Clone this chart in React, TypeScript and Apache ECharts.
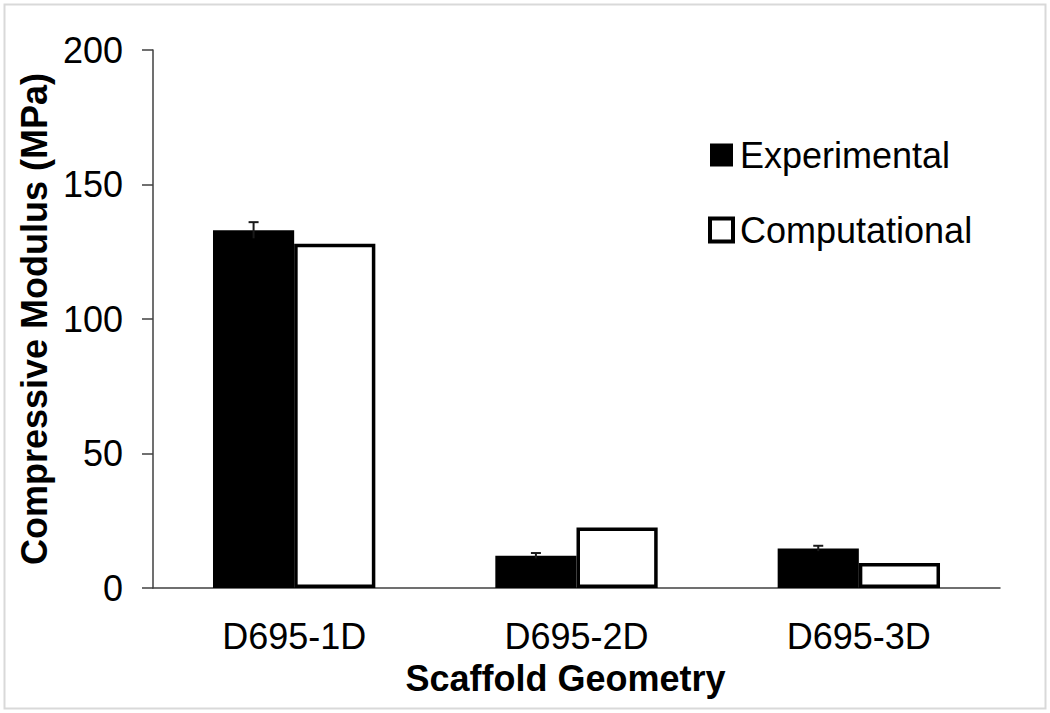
import React, { useEffect, useRef } from "react";
import * as echarts from "echarts";

const categories = ["D695-1D", "D695-2D", "D695-3D"];
const experimental = [133, 12, 14.7];
const experimentalError = [3, 1, 1];
const computational = [128, 22.5, 9.3];
const yTicks = { min: 0, max: 200, interval: 50 };

const FONT = "Liberation Sans, Arial, sans-serif";
const CAT_GAP = 0.425;

export default function App() {
  const ref = useRef<HTMLDivElement>(null);
  useEffect(() => {
    document.body.style.margin = "0";
    const chart = echarts.init(ref.current!, null, { renderer: "svg" });
    const errData = categories.map((c, i) => [i, experimental[i], experimentalError[i]]);
    chart.setOption({
      animation: false,
      backgroundColor: "#ffffff",
      textStyle: { fontFamily: FONT },
      graphic: [
        {
          type: "rect",
          shape: { x: 4.5, y: 4.5, width: 1041, height: 704 },
          style: { fill: "none", stroke: "#d9d9d9", lineWidth: 2 },
          silent: true,
        },
      ],
      grid: { left: 153, top: 50, right: 50, bottom: 125 },
      legend: {
        left: 703,
        top: 132,
        orient: "vertical",
        itemWidth: 23,
        itemHeight: 23,
        itemGap: 39,
        icon: "rect",
        data: [
          { name: "Experimental" },
          { name: "Computational", itemStyle: { borderWidth: 4, borderColor: "#000", color: "#fff" } },
        ],
        textStyle: { fontSize: 36, color: "#000", fontFamily: FONT, lineHeight: 36, padding: [0, 0, 0, 2] },
      },
      xAxis: {
        type: "category",
        data: categories,
        axisLine: { lineStyle: { color: "#404040", width: 1.5 } },
        axisTick: { show: false },
        axisLabel: { fontSize: 36, color: "#000", margin: 30, fontFamily: FONT },
        name: "Scaffold Geometry",
        nameLocation: "middle",
        nameGap: 72,
        nameTextStyle: { fontSize: 36, fontWeight: "bold", color: "#000", fontFamily: FONT, padding: [0, 22, 0, 0] },
      },
      yAxis: {
        type: "value",
        min: yTicks.min,
        max: yTicks.max,
        interval: yTicks.interval,
        splitLine: { show: false },
        axisLine: { show: true, lineStyle: { color: "#404040", width: 1.5 } },
        axisTick: { show: true, length: 11, lineStyle: { color: "#404040", width: 1.5 } },
        axisLabel: { fontSize: 36, color: "#000", margin: 30, fontFamily: FONT },
        name: "Compressive Modulus (MPa)",
        nameLocation: "middle",
        nameGap: 99,
        nameTextStyle: { fontSize: 36, fontWeight: "bold", color: "#000", fontFamily: FONT },
      },
      series: [
        {
          name: "Experimental",
          type: "bar",
          data: experimental,
          barGap: "0%",
          barCategoryGap: CAT_GAP * 100 + "%",
          itemStyle: { color: "#000000" },
          z: 2,
        },
        {
          name: "Computational",
          type: "bar",
          data: computational,
          barGap: "0%",
          barCategoryGap: CAT_GAP * 100 + "%",
          itemStyle: { color: "#ffffff", borderColor: "#000000", borderWidth: 3.5 },
          z: 2,
        },
        {
          name: "errors",
          type: "custom",
          data: errData,
          z: 5,
          renderItem: (params: any, api: any) => {
            const idx = api.value(0);
            const v = api.value(1);
            const e = api.value(2);
            const band = api.size([1, 0])[0];
            const barW = (band * (1 - CAT_GAP)) / 2;
            const top = api.coord([idx, v + e]);
            const bot = api.coord([idx, v - e]);
            const x = top[0] - barW / 2;
            const cap = 5;
            const style = { stroke: "#1a1a1a", lineWidth: 2, fill: "none" };
            return {
              type: "group",
              children: [
                { type: "line", shape: { x1: x, y1: top[1], x2: x, y2: bot[1] }, style },
                { type: "line", shape: { x1: x - cap, y1: top[1], x2: x + cap, y2: top[1] }, style },
              ],
            };
          },
        },
      ],
    });
    return () => chart.dispose();
  }, []);
  return <div ref={ref} style={{ width: 1050, height: 713 }} />;
}
